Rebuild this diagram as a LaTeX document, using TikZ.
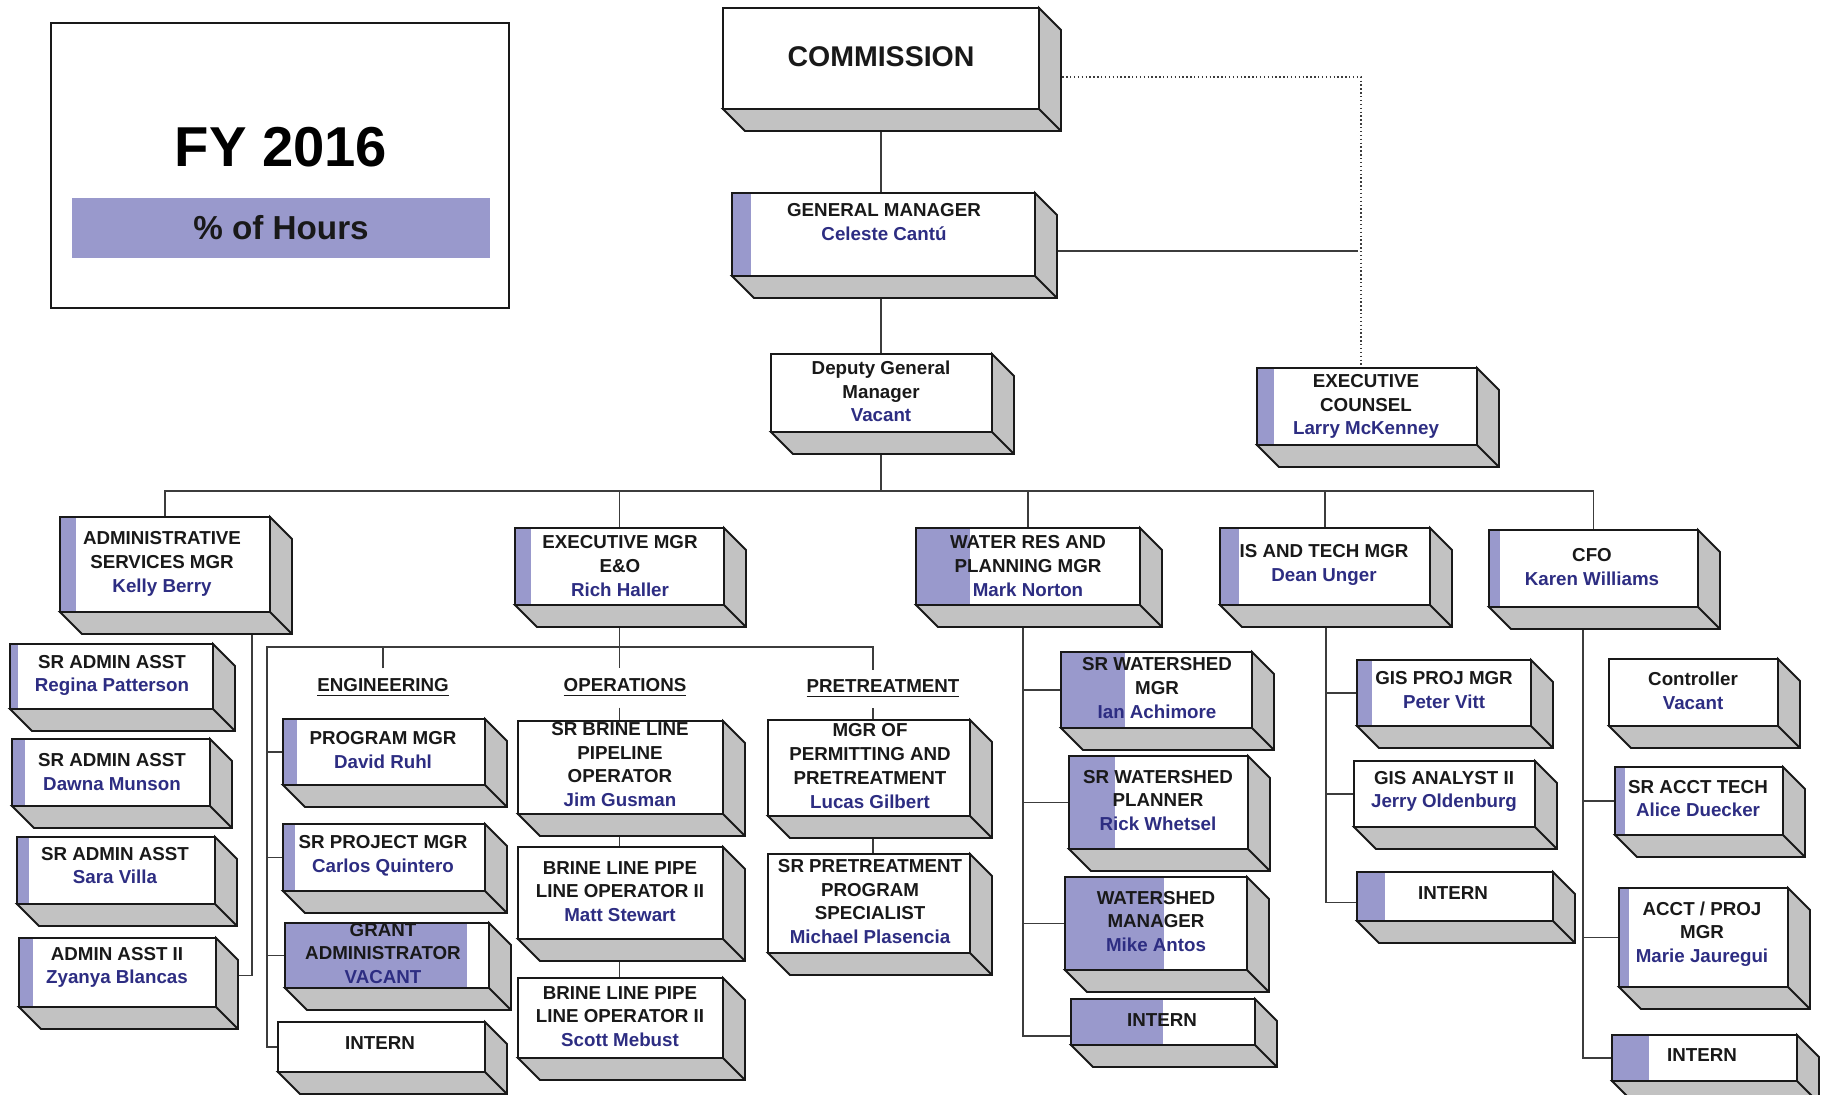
\documentclass[tikz,border=0pt]{standalone}
\usepackage{fontspec}
\setmainfont{Liberation Sans}
\usetikzlibrary{fit,calc}
\definecolor{hours}{RGB}{153,153,204}
\definecolor{depthgray}{RGB}{194,194,194}
\definecolor{namec}{RGB}{45,45,130}
\definecolor{ink}{RGB}{25,25,25}
\definecolor{linec}{RGB}{60,60,60}
\pgfdeclarelayer{bg}
\pgfsetlayers{bg,main}
\def\dd{22}
\newcommand\nm[1]{\textcolor{namec}{#1}}
\newcommand\obox[6]{%
  \node[front, fit={(#2,#3) (#4,#5)}] (#1) {};
  \fill[hours] (#1.north west) rectangle (#6,#5);
  \filldraw[depth] (#1.south west) -- ++(\dd,\dd) -- ($(#1.south east)+(\dd,\dd)$) -- ($(#1.north east)+(\dd,\dd)$) -- (#1.north east) -- (#1.south east) -- cycle;
  \draw[edge] (#1.north west) rectangle (#1.south east);
  \draw[edge] (#1.south east) -- ++(\dd,\dd);
}
\newcommand\otxt[4]{\node[txt] (#1-t) at (#2,#3) {#4};}
\begin{document}
\begin{tikzpicture}[x=0.4pt,y=-0.4pt,
  front/.style={fill=white, inner sep=0pt, outer sep=0pt},
  edge/.style={draw=ink, line width=0.75pt},
  depth/.style={fill=depthgray, draw=ink, line width=0.75pt, line join=miter},
  txt/.style={font=\bfseries\fontsize{7.5}{9.5}\selectfont, text=ink, align=center, inner sep=0pt},
  sect/.style={font=\bfseries\fontsize{7.5}{9.5}\selectfont, text=ink, inner xsep=0pt, inner ysep=4pt},
  conn/.style={draw=linec, line width=0.75pt},
  dotline/.style={draw=linec, line width=0.55pt, densely dotted}]
\useasboundingbox (0,0) rectangle (1825,1094);
\begin{pgfonlayer}{bg}\fill[white] (0,0) rectangle (1825,1094);\end{pgfonlayer}

% title box
\node[front, draw=ink, line width=0.7pt, fit={(51,23) (509,308)}] (fy) {};
\node[fill=hours, inner sep=0pt, outer sep=0pt, fit={(72,198) (490,258)}] (hrs) {};
\node[font=\bfseries\fontsize{22.5}{27}\selectfont, text=black] (fyt) at (281,147) {FY 2016};
\node[font=\bfseries\fontsize{13.3}{16}\selectfont, text=ink] (hrst) at (hrs.center) {\% of Hours};

% top
\obox{comm}{723}{8}{1039}{109}{723}
\node[font=\bfseries\fontsize{11.4}{13}\selectfont, text=ink] (comm-t) at (881,57) {COMMISSION};
\obox{gm}{732}{193}{1035}{276}{751}
\otxt{gm}{884}{222}{GENERAL MANAGER\\\nm{Celeste Cantú}}
\obox{dgm}{771}{354}{992}{432}{771}
\otxt{dgm}{881}{391.5}{Deputy General\\Manager\\\nm{Vacant}}
\obox{ec}{1257}{368}{1477}{445}{1274}
\otxt{ec}{1366}{406.5}{EXECUTIVE\\COUNSEL\\\nm{Larry McKenney}}

% managers
\obox{adm}{60}{517}{270}{612}{76}
\otxt{adm}{162}{564}{ADMINISTRATIVE\\SERVICES MGR\\\nm{Kelly Berry}}
\obox{exe}{515}{528}{724}{605}{531}
\otxt{exe}{620}{566}{EXECUTIVE MGR\\E\&O\\\nm{Rich Haller}}
\obox{wr}{916}{528}{1140}{605}{970}
\otxt{wr}{1028}{566}{WATER RES AND\\PLANNING MGR\\\nm{Mark Norton}}
\obox{is}{1220}{528}{1430}{605}{1239}
\otxt{is}{1324}{565}{IS AND TECH MGR\\\nm{Dean Unger}}
\obox{cfo}{1489}{530}{1698}{607}{1500}
\otxt{cfo}{1592}{567}{CFO\\\nm{Karen Williams}}

% admin staff
\obox{sa1}{10}{644}{213}{709}{18}
\otxt{sa1}{112}{675.5}{SR ADMIN ASST\\\nm{Regina Patterson}}
\obox{sa2}{12}{739}{210}{806}{25}
\otxt{sa2}{112}{772}{SR ADMIN ASST\\\nm{Dawna Munson}}
\obox{sa3}{17}{837}{215}{904}{29}
\otxt{sa3}{115}{865.5}{SR ADMIN ASST\\\nm{Sara Villa}}
\obox{sa4}{19}{938}{216}{1007}{33}
\otxt{sa4}{117}{967.5}{ADMIN ASST II\\\nm{Zyanya Blancas}}

% engineering
\node[sect] (eng) at (383,688) {\underline{ENGINEERING}};
\node[sect] (ops) at (625,688) {\underline{OPERATIONS}};
\node[sect] (pre) at (883,689) {\underline{PRETREATMENT}};
\obox{pm}{283}{719}{485}{785}{297}
\otxt{pm}{383}{750}{PROGRAM MGR\\\nm{David Ruhl}}
\obox{spm}{283}{824}{485}{891}{295}
\otxt{spm}{383}{855.5}{SR PROJECT MGR\\\nm{Carlos Quintero}}
\obox{ga}{285}{923}{489}{988}{467}
\otxt{ga}{383}{953.5}{GRANT\\ADMINISTRATOR\\\nm{VACANT}}
\obox{eint}{278}{1022}{485}{1072}{278}
\otxt{eint}{380}{1043}{INTERN}

% operations
\obox{br1}{518}{721}{723}{814}{518}
\otxt{br1}{620}{764.5}{SR BRINE LINE\\PIPELINE\\OPERATOR\\\nm{Jim Gusman}}
\obox{br2}{518}{847}{723}{939}{518}
\otxt{br2}{620}{891.5}{BRINE LINE PIPE\\LINE OPERATOR II\\\nm{Matt Stewart}}
\obox{br3}{518}{978}{723}{1058}{518}
\otxt{br3}{620}{1016.5}{BRINE LINE PIPE\\LINE OPERATOR II\\\nm{Scott Mebust}}

% pretreatment
\obox{perm}{768}{720}{970}{816}{768}
\otxt{perm}{870}{766}{MGR OF\\PERMITTING AND\\PRETREATMENT\\\nm{Lucas Gilbert}}
\obox{spt}{768}{854}{970}{953}{768}
\otxt{spt}{870}{901.5}{SR PRETREATMENT\\PROGRAM\\SPECIALIST\\\nm{Michael Plasencia}}

% water resources
\obox{srwm}{1061}{652}{1252}{728}{1125}
\otxt{srwm}{1157}{688}{SR WATERSHED\\MGR\\\nm{Ian Achimore}}
\obox{srwp}{1069}{756}{1248}{849}{1115}
\otxt{srwp}{1158}{800.5}{SR WATERSHED\\PLANNER\\\nm{Rick Whetsel}}
\obox{wm}{1065}{877}{1247}{970}{1164}
\otxt{wm}{1156}{921.5}{WATERSHED\\MANAGER\\\nm{Mike Antos}}
\obox{wint}{1071}{999}{1255}{1045}{1163}
\otxt{wint}{1162}{1020}{INTERN}

% IS
\obox{gisp}{1357}{660}{1531}{726}{1372}
\otxt{gisp}{1444}{690}{GIS PROJ MGR\\\nm{Peter Vitt}}
\obox{gisa}{1354}{761}{1535}{827}{1354}
\otxt{gisa}{1444}{791.5}{GIS ANALYST II\\\nm{Jerry Oldenburg}}
\obox{iint}{1357}{872}{1553}{921}{1385}
\otxt{iint}{1453}{893}{INTERN}

% CFO
\obox{ctrl}{1609}{659}{1778}{726}{1609}
\otxt{ctrl}{1693}{691}{Controller\\\nm{Vacant}}
\obox{sat}{1615}{767}{1783}{835}{1625}
\otxt{sat}{1698}{798.5}{SR ACCT TECH\\\nm{Alice Duecker}}
\obox{apm}{1619}{888}{1788}{987}{1629}
\otxt{apm}{1702}{934}{ACCT / PROJ\\MGR\\\nm{Marie Jauregui}}
\obox{cint}{1612}{1035}{1797}{1081}{1649}
\otxt{cint}{1702}{1055}{INTERN}

% connectors
\coordinate (dj) at (1361,77);
\coordinate (gmj) at (1358,251);
\coordinate (bus) at (881,491);
\coordinate (admv) at (252,612);
\coordinate (b2l) at (267,647);
\coordinate (pj) at (873,647);
\coordinate (wv) at (1023,0);
\coordinate (iv) at (1326,0);
\coordinate (cv) at (1583,0);
\begin{pgfonlayer}{bg}
\draw[conn] (comm.south) -- (comm.south |- gm.north);
\draw[conn] (gm.south -| comm.south) -- (comm.south |- dgm.north);
\draw[dotline] (comm.east |- dj) -- (dj) -- (dj |- ec.north);
\draw[conn] (gm.east |- gmj) -- (gmj);
\draw[conn] (dgm.south -| bus) -- (bus);
\draw[conn] (adm.north) |- (bus) -| (cfo.north);
\draw[conn] (exe.north) -- (exe.north |- bus);
\draw[conn] (wr.north) -- (wr.north |- bus);
\draw[conn] (is.north) -- (is.north |- bus);
% admin
\draw[conn] ($(sa4.east)+(\dd,3)$) -| (admv);
\draw[conn] ($(sa1.east)+(\dd,0)$) -- ($(sa1.east)+(\dd,0)$ -| admv);
\draw[conn] ($(sa2.east)+(\dd,1)$) -- ($(sa2.east)+(\dd,1)$ -| admv);
\draw[conn] ($(sa3.east)+(\dd,2)$) -- ($(sa3.east)+(\dd,2)$ -| admv);
% E&O
\draw[conn] (exe.south) -- (exe.south |- ops.north);
\draw[conn] (exe.south |- ops.south) -- (exe.south |- br1.north);
\draw[conn] (exe.south |- br1.south) -- (exe.south |- br2.north);
\draw[conn] (exe.south |- br2.south) -- (exe.south |- br3.north);
\draw[conn] (eint.west) -| (b2l) -- (pj) -- (pj |- pre.north);
\draw[conn] (pm.west) -- (pm.west -| b2l);
\draw[conn] (spm.west) -- (spm.west -| b2l);
\draw[conn] (ga.west) -- (ga.west -| b2l);
\draw[conn] (eng.north) -- (eng.north |- b2l);
\draw[conn] (pj |- pre.south) -- (pj |- perm.north);
\draw[conn] (pj |- perm.south) -- (pj |- spt.north);
% water
\draw[conn] ($(wint.west)+(0,14)$) -| (wr.south -| wv);
\draw[conn] (srwm.west) -- (srwm.west -| wv);
\draw[conn] (srwp.west) -- (srwp.west -| wv);
\draw[conn] (wm.west) -- (wm.west -| wv);
% IS
\draw[conn] ($(iint.west)+(0,6)$) -| (is.south -| iv);
\draw[conn] (gisp.west) -- (gisp.west -| iv);
\draw[conn] (gisa.west) -- (gisa.west -| iv);
% CFO
\draw[conn] (cint.west) -| (cfo.south -| cv);
\draw[conn] ($(ctrl.west)+(0,8)$) -- ($(ctrl.west)+(0,8)$ -| cv);
\draw[conn] (sat.west) -- (sat.west -| cv);
\draw[conn] (apm.west) -- (apm.west -| cv);
\end{pgfonlayer}
\end{tikzpicture}
\end{document}
